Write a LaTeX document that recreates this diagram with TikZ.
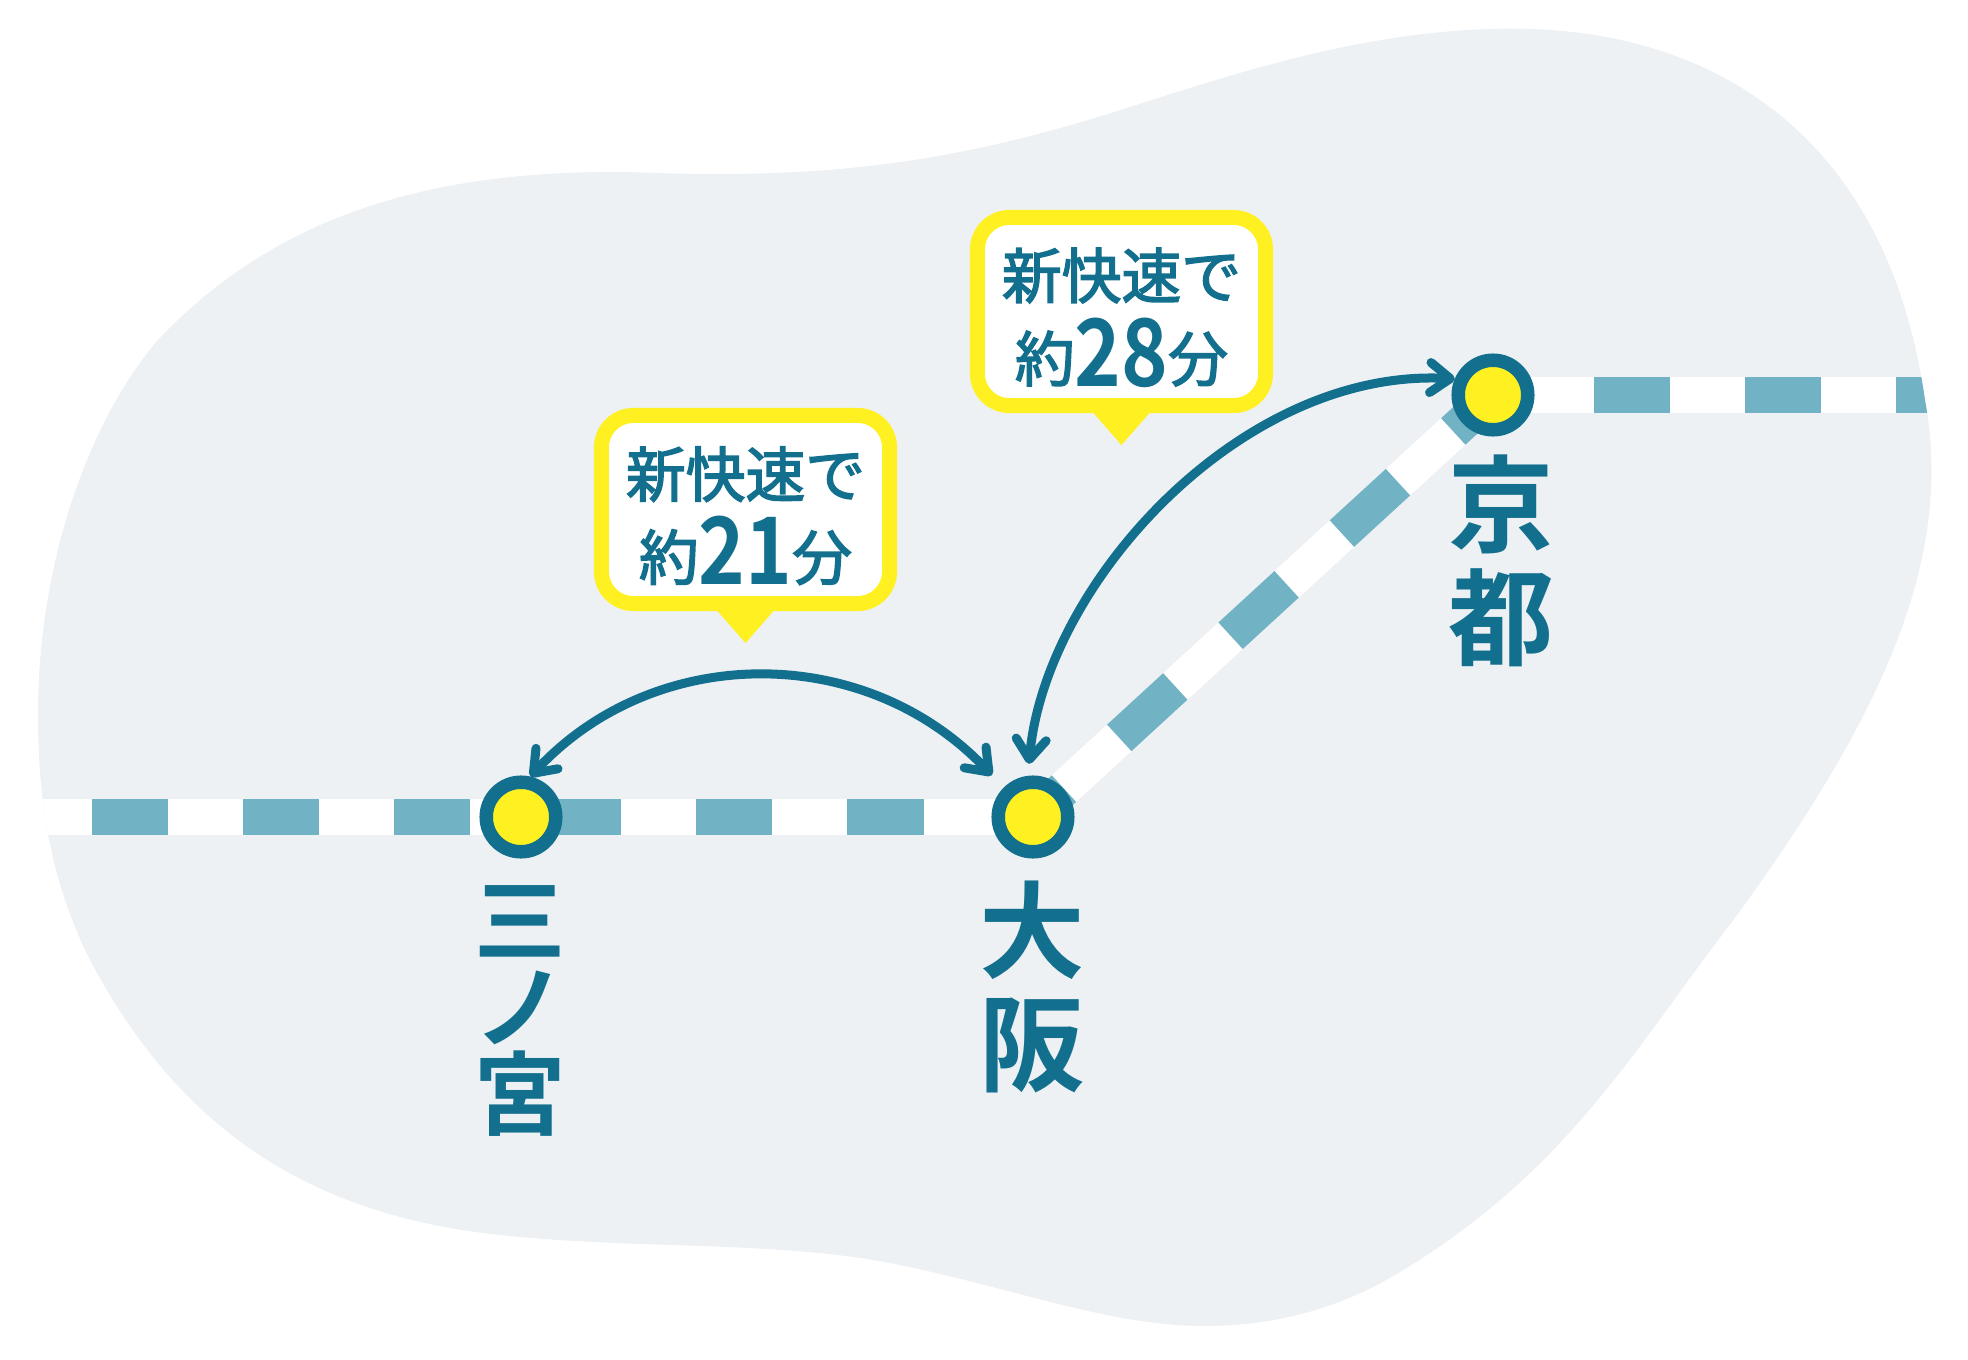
\documentclass[tikz,border=0pt]{standalone}
\usepackage{fontspec}
\usetikzlibrary{arrows.meta,backgrounds}
\newfontfamily\jp{Noto Sans CJK JP}[BoldFont={Noto Sans CJK JP Bold}]
\newfontfamily\jpthin{Noto Sans CJK JP}[FakeBold=2.5]
\newfontfamily\jpnum{Noto Sans CJK JP Bold}[FakeStretch=.85]
\newcommand{\jpsize}[2]{\jp\bfseries\fontsize{#1}{#2}\selectfont\lineskiplimit=-100pt}
\newcommand{\callsize}{\jpthin\fontsize{17}{23.6}\selectfont\lineskiplimit=-100pt}
\definecolor{blobgrey}{HTML}{EDF1F4}
\definecolor{trackteal}{HTML}{71B3C5}
\definecolor{deepteal}{HTML}{126F8E}
\definecolor{signyellow}{HTML}{FFF021}
\newcommand{\blobpath}{(157,341)
  .. controls (280,210) and (440,170) .. (628,172)
  .. controls (820,180) and (950,165) .. (1130,107)
  .. controls (1260,65) and (1390,25) .. (1530,29)
  .. controls (1730,35) and (1890,150) .. (1925,400)
  .. controls (1955,560) and (1880,720) .. (1732,922)
  .. controls (1640,1040) and (1570,1170) .. (1400,1272)
  .. controls (1330,1315) and (1260,1326) .. (1205,1326)
  .. controls (1110,1326) and (1020,1290) .. (900,1265)
  .. controls (780,1240) and (640,1250) .. (500,1235)
  .. controls (310,1215) and (180,1130) .. (90,960)
  .. controls (50,880) and (38,800) .. (38,715)
  .. controls (38,560) and (90,420) .. (157,341) -- cycle}
\tikzset{
  station/.style={circle,draw=deepteal,fill=signyellow,line width=.135cm,minimum size=.695cm,inner sep=0pt},
  stnname/.style={text=deepteal,align=center,inner sep=0pt},
  callout/.style={draw=signyellow,fill=white,line width=.15cm,rounded corners=.32cm,
    minimum width=2.88cm,minimum height=1.88cm,inner sep=0pt,text=deepteal,align=center,
    font=\callsize},
  calltip/.style={fill=signyellow},
  trackbase/.style={white,line width=.36cm},
  trackdash/.style={trackteal,line width=.36cm,dash pattern=on .76cm off .75cm},
  ride/.style={draw=deepteal,line width=.09cm,line cap=round,
    {Straight Barb[round,length=.2cm,width=.3cm]}-{Straight Barb[round,length=.2cm,width=.3cm]}}
}
\newcommand{\bignum}[1]{\raisebox{-.05cm}{\jpnum\fontsize{26.5}{21}\selectfont #1}}
\newcommand{\toppad}{\rule{0pt}{17.8pt}}
\begin{document}
\begin{tikzpicture}[x=.01cm,y=-.01cm]
  \useasboundingbox (0,0) rectangle (1968,1360);
  \node[station] (sannomiya) at (521,817) {};
  \node[station] (osaka) at (1033,817) {};
  \node[station] (kyoto) at (1493,395) {};
  \coordinate (westEnd) at (20,817);
  \coordinate (eastEnd) at (1960,395);
  \begin{scope}[on background layer]
    \fill[blobgrey] \blobpath;
    \begin{scope}
      \clip \blobpath;
      \draw[trackbase] (westEnd) -- (osaka.center);
      \draw[trackbase] (osaka.center) -- (kyoto.center);
      \draw[trackbase] (kyoto.center) -- (eastEnd);
      \draw[trackdash,dash phase=.79cm] (westEnd) -- (osaka.center);
      \draw[trackdash,dash phase=.34cm] (osaka.center) -- (kyoto.center);
      \draw[trackdash,dash phase=.5cm] (kyoto.center) -- (eastEnd);
    \end{scope}
  \end{scope}
  \draw[ride,shorten >=.17cm] (sannomiya.77) .. controls (655,642) and (866,642) .. (osaka.135);
  \draw[ride,shorten <=.12cm] (osaka.97) .. controls (1045,585) and (1240,368) .. (kyoto.157);
  % callouts
  \node[callout] (timeA) at (745.5,509.5) {\toppad 新快速で\\約\bignum{21}分};
  \node[callout] (timeB) at (1121.5,311.5) {\toppad 新快速で\\約\bignum{28}分};
  \fill[calltip] (timeA.south) ++(-28,0) -- ++(56,0) -- ++(-28,32) -- cycle;
  \fill[calltip] (timeB.south) ++(-28,0) -- ++(56,0) -- ++(-28,32) -- cycle;
  % station names
  \node[stnname,font=\jpsize{26}{24.8}] (nameSannomiya) at (520,1011) {三\\ノ\\宮};
  \node[stnname,font=\jpsize{30}{32.1}] (nameOsaka) at (1032,987) {大\\阪};
  \node[stnname,font=\jpsize{30}{32}] (nameKyoto) at (1501,561) {京\\都};
\end{tikzpicture}
\end{document}
